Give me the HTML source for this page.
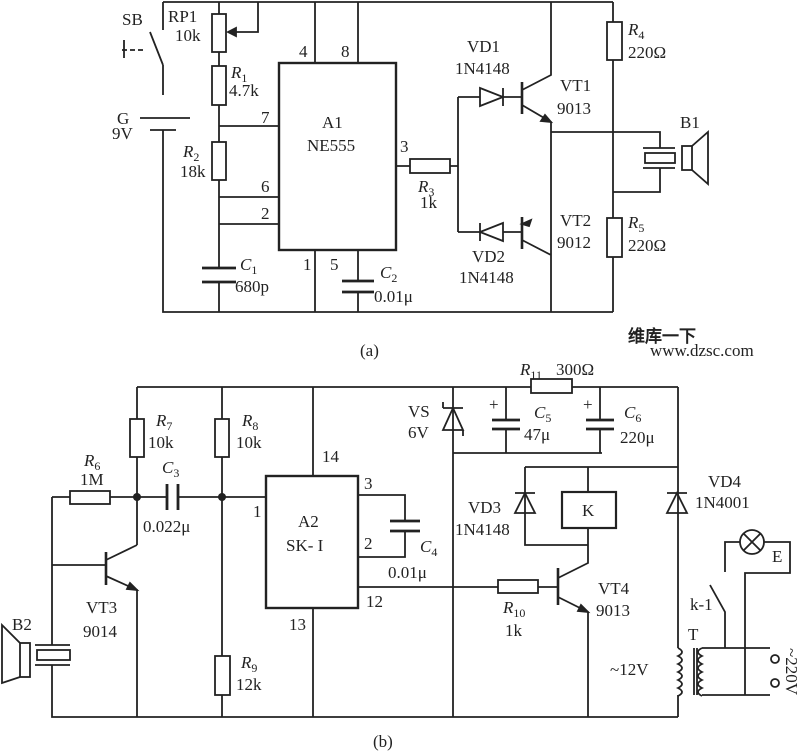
<!DOCTYPE html>
<html><head><meta charset="utf-8"><style>
body{margin:0;background:#fff}
svg{display:block}
text{font-family:"Liberation Serif",serif;font-size:17px;fill:#222}
.i{font-style:italic}
</style></head><body>
<svg width="800" height="755" viewBox="0 0 800 755" xmlns="http://www.w3.org/2000/svg">
<g stroke="#222" stroke-width="1.8" fill="none">
<!-- (a) -->
<path d="M163 2H613M163 130V312H613"/>
<path d="M163 2V30"/>
<path d="M150 32L163 65M163 65V95" /><path d="M122 50H127M130 50H135M138 50H143M124 40V58"/>
<path d="M140 118H190M150 130H176"/>
<path d="M219 2V14M219 52V66M219 105V142M219 180V268M219 282V312"/>
<rect x="212" y="14" width="14" height="38"/><rect x="212" y="66" width="14" height="39"/><rect x="212" y="142" width="14" height="38"/>
<path d="M228 32H258V2"/><path d="M228 32l8 -4v8z" fill="#222"/>
<path d="M202 268H236M202 282H236" stroke-width="2.8"/>
<path d="M219 126H279M219 197H279M219 224H279"/>
<rect x="279" y="63" width="117" height="187" stroke-width="2.4"/>
<path d="M315 2V63M358 2V63M315 250V312M358 250V281M358 292V312"/>
<path d="M342 281H374M342 292H374" stroke-width="2.8"/>
<path d="M396 166H410M450 166H458M458 97V232"/>
<rect x="410" y="159" width="40" height="14"/>
<path d="M458 97H480M503 97H522M458 232H480M503 232H522"/>
<path d="M480 88V106L503 97Z M503 88V106"/>
<path d="M503 223V241L480 232Z M480 223V241"/>
<path d="M522 82V114M522 217V249" stroke-width="2.6"/>
<path d="M522 90L551 75V2M522 105L551 122V255M522 240L551 255V312"/>
<path d="M551 122l-10 -1l4 -6z M522 224l9 -4l-2 6z" fill="#222"/>
<path d="M551 132H660V148M613 2V22M613 60V218M613 257V312M613 192H660V168"/>
<rect x="607" y="22" width="15" height="38"/><rect x="607" y="218" width="15" height="39"/>
<path d="M643 148H675M643 168H675"/><rect x="645" y="153" width="30" height="10"/>
<rect x="682" y="146" width="10" height="24"/><path d="M692 146L708 132V184L692 170"/>
<!-- (b) -->
<path d="M137 387H678M137 387V419M137 457V545M222 387V419M222 457V656M222 695V717M313 387V476"/>
<rect x="130" y="419" width="14" height="38"/><rect x="215" y="419" width="14" height="38"/><rect x="215" y="656" width="15" height="39"/>
<path d="M52 497H70M110 497H167M178 497H266M52 497V645M52 665V717H678"/>
<rect x="70" y="491" width="40" height="13"/>
<path d="M167 484V510M178 484V510" stroke-width="2.8"/>
<path d="M52 565H106"/><path d="M106 552V585" stroke-width="2.6"/>
<path d="M106 560L137 545M106 576L137 590V717"/><path d="M137 590l-10 -1l3 -6z" fill="#222"/>
<path d="M35 645H70M35 665H70"/><rect x="37" y="650" width="33" height="10"/>
<rect x="20" y="643" width="10" height="34"/><path d="M20 643L2 625V683L20 677"/>
<rect x="266" y="476" width="92" height="132" stroke-width="2.4"/>
<path d="M313 608V717M358 495H405V521M405 531V557H358M358 587H498M538 587H558"/>
<path d="M390 521H420M390 531H420" stroke-width="2.8"/>
<rect x="498" y="580" width="40" height="13"/>
<path d="M558 568V605" stroke-width="2.6"/>
<path d="M558 578L588 563V528M558 597L588 612V717"/><path d="M588 612l-10 -1l3 -6z" fill="#222"/>
<rect x="562" y="492" width="54" height="36" stroke-width="2.2"/>
<path d="M588 492V467M525 467H678M525 467V545H588"/>
<path d="M515 513H535L525 493Z M515 493H535"/>
<path d="M453 387V717M453 453H602M506 387V420M506 429V453M600 387V420M600 429V453"/>
<path d="M443 430H463L453 408Z M443 408H463M443 408V402M463 430V436"/>
<path d="M492 420H520M586 420H614" stroke-width="2.8"/><path d="M492 429H520M586 429H614" stroke-width="2.8"/>
<rect x="531" y="379" width="41" height="14" fill="#fff"/>
<path d="M667 513H687L677 493Z M667 493H687"/>
<path d="M678 387V648M678 695V717"/>
<path d="M678 648q8 4 0 8q8 4 0 8q8 4 0 8q8 4 0 8q8 4 0 8q8 4 0 8" />
<path d="M694 648V695M697 648V695"/>
<path d="M702 648q-8 4 0 8q-8 4 0 8q-8 4 0 8q-8 4 0 8q-8 4 0 8q-8 4 0 8"/>
<path d="M702 648H770M702 695H770M725 648V612L710 585M725 572V542H740M764 542H790V573H745V695"/>
<circle cx="752" cy="542" r="12"/><path d="M744 534L760 550M760 534L744 550"/>
<circle cx="775" cy="659" r="4"/><circle cx="775" cy="683" r="4"/>
</g>
<circle cx="137" cy="497" r="4" fill="#222"/><circle cx="222" cy="497" r="4" fill="#222"/>
<g>
<text x="122" y="25">SB</text>
<text x="168" y="22">RP1</text><text x="175" y="41">10k</text>
<text x="231" y="78" class="i">R<tspan font-size="12" dy="4" font-style="normal">1</tspan></text><text x="229" y="96">4.7k</text>
<text x="117" y="124">G</text><text x="112" y="139">9V</text>
<text x="183" y="157" class="i">R<tspan font-size="12" dy="4" font-style="normal">2</tspan></text><text x="180" y="177">18k</text>
<text x="261" y="123">7</text><text x="261" y="192">6</text><text x="261" y="219">2</text>
<text x="299" y="57">4</text><text x="341" y="57">8</text>
<text x="322" y="128" font-size="19">A1</text><text x="307" y="151" font-size="19">NE555</text>
<text x="400" y="152">3</text>
<text x="418" y="192" class="i">R<tspan font-size="12" dy="4" font-style="normal">3</tspan></text><text x="420" y="208">1k</text>
<text x="303" y="270">1</text><text x="330" y="270">5</text>
<text x="240" y="270" class="i">C<tspan font-size="12" dy="4" font-style="normal">1</tspan></text><text x="235" y="292">680p</text>
<text x="380" y="278" class="i">C<tspan font-size="12" dy="4" font-style="normal">2</tspan></text><text x="374" y="302">0.01μ</text>
<text x="467" y="52">VD1</text><text x="455" y="74">1N4148</text>
<text x="560" y="91">VT1</text><text x="557" y="114">9013</text>
<text x="560" y="226">VT2</text><text x="557" y="248">9012</text>
<text x="472" y="262">VD2</text><text x="459" y="283">1N4148</text>
<text x="628" y="35" class="i">R<tspan font-size="12" dy="4" font-style="normal">4</tspan></text><text x="628" y="58">220Ω</text>
<text x="628" y="228" class="i">R<tspan font-size="12" dy="4" font-style="normal">5</tspan></text><text x="628" y="251">220Ω</text>
<text x="680" y="128">B1</text>
<text x="360" y="356">(a)</text>
<text x="628" y="342" font-family="Liberation Sans,Noto Sans CJK SC,sans-serif" font-weight="bold" font-size="15" fill="#f33">维库一下</text>
<text x="650" y="356" font-family="Liberation Sans" font-size="10" fill="#333">www.dzsc.com</text>
<text x="520" y="375" class="i">R<tspan font-size="12" dy="4" font-style="normal">11</tspan></text><text x="556" y="375">300Ω</text>
<text x="408" y="417">VS</text><text x="408" y="438">6V</text>
<text x="489" y="410" font-size="14">+</text><text x="583" y="410" font-size="14">+</text>
<text x="534" y="418" class="i">C<tspan font-size="12" dy="4" font-style="normal">5</tspan></text><text x="524" y="440">47μ</text>
<text x="624" y="418" class="i">C<tspan font-size="12" dy="4" font-style="normal">6</tspan></text><text x="620" y="443">220μ</text>
<text x="156" y="426" class="i">R<tspan font-size="12" dy="4" font-style="normal">7</tspan></text><text x="148" y="448">10k</text>
<text x="242" y="426" class="i">R<tspan font-size="12" dy="4" font-style="normal">8</tspan></text><text x="236" y="448">10k</text>
<text x="84" y="466" class="i">R<tspan font-size="12" dy="4" font-style="normal">6</tspan></text><text x="80" y="485">1M</text>
<text x="162" y="473" class="i">C<tspan font-size="12" dy="4" font-style="normal">3</tspan></text><text x="143" y="532">0.022μ</text>
<text x="322" y="462">14</text><text x="253" y="517">1</text>
<text x="298" y="527" font-size="19">A2</text><text x="286" y="551" font-size="19">SK- I</text>
<text x="364" y="489">3</text><text x="364" y="549">2</text><text x="366" y="607">12</text><text x="289" y="630">13</text>
<text x="420" y="552" class="i">C<tspan font-size="12" dy="4" font-style="normal">4</tspan></text><text x="388" y="578">0.01μ</text>
<text x="468" y="513">VD3</text><text x="455" y="535">1N4148</text>
<text x="582" y="516" font-size="18">K</text>
<text x="708" y="487">VD4</text><text x="695" y="508">1N4001</text>
<text x="772" y="562">E</text><text x="690" y="610">k-1</text>
<text x="86" y="613">VT3</text><text x="83" y="637">9014</text>
<text x="12" y="630">B2</text>
<text x="598" y="594">VT4</text><text x="596" y="616">9013</text>
<text x="503" y="613" class="i">R<tspan font-size="12" dy="4" font-style="normal">10</tspan></text><text x="505" y="636">1k</text>
<text x="688" y="640">T</text><text x="610" y="675">~12V</text>
<text x="241" y="668" class="i">R<tspan font-size="12" dy="4" font-style="normal">9</tspan></text><text x="236" y="690">12k</text>
<text transform="translate(786,648) rotate(90)">~220V</text>
<text x="373" y="747">(b)</text>
</g>
</svg>
</body></html>
